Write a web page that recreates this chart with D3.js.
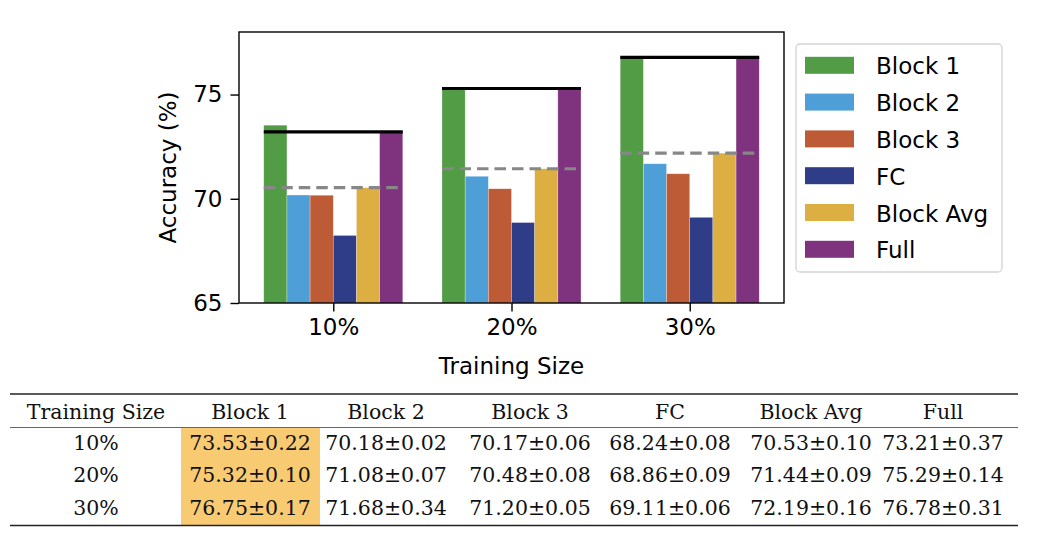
<!DOCTYPE html>
<html>
<head>
  <script src="https://d3js.org/d3.v7.min.js"></script>
  <style>
    body { margin: 0; background: #fff; }
    .axis text { font-family: "DejaVu Sans", sans-serif; font-size: 23px; fill: #000; }
    .axis path, .axis line { stroke: #000; stroke-width: 1.4; }
    .tbl text { font-family: "DejaVu Serif", serif; font-size: 20.5px; fill: #111; }
  </style>
</head>
<body>
  <svg width="1038" height="538"></svg>
  <script>
    // training sizes and methods
    var sizes = ["10%", "20%", "30%"];
    var methods = ["Block 1", "Block 2", "Block 3", "FC", "Block Avg", "Full"];
    var colors = ["#519c45", "#4e9fd8", "#bd5b37", "#2f3d89", "#ddae41", "#7f337e"];

    // mean accuracy per method
    var block1 = [73.53, 75.32, 76.75];
    var block2 = [70.18, 71.08, 71.68];
    var block3 = [70.17, 70.48, 71.20];
    var fc = [68.24, 68.86, 69.11];
    var blockAvg = [70.53, 71.44, 72.19];
    var full = [73.21, 75.29, 76.78];

    // std per method (table only)
    var block1Std = [0.22, 0.10, 0.17];
    var block2Std = [0.02, 0.07, 0.34];
    var block3Std = [0.06, 0.08, 0.05];
    var fcStd = [0.08, 0.09, 0.06];
    var blockAvgStd = [0.10, 0.09, 0.16];
    var fullStd = [0.37, 0.14, 0.31];

    var yTicks = [65, 70, 75];

    var series = [block1, block2, block3, fc, blockAvg, full];
    var stds = [block1Std, block2Std, block3Std, fcStd, blockAvgStd, fullStd];

    var svg = d3.select("svg");
    var margin = {left: 239, right: 784, top: 32, bottom: 303};
    var barW = 0.13;

    var x = d3.scaleLinear().domain([-0.529, 2.529]).range([margin.left, margin.right]);
    var y = d3.scaleLinear().domain([65, 78.0]).range([margin.bottom, margin.top]);

    var bars = [];
    series.forEach(function(s, m) {
      s.forEach(function(v, g) { bars.push({g: g, m: m, v: v}); });
    });

    svg.append("g").selectAll("rect")
      .data(bars)
      .enter().append("rect")
      .attr("x", function(d) { return x(d.g + (d.m - 3) * barW); })
      .attr("width", x(barW) - x(0))
      .attr("y", function(d) { return y(d.v); })
      .attr("height", function(d) { return y(65) - y(d.v); })
      .attr("fill", function(d) { return colors[d.m]; })
      .attr("stroke", "#fff")
      .attr("stroke-opacity", 0.45)
      .attr("stroke-width", 0.6);

    // block avg dashed line and full solid line per group
    svg.append("g").selectAll("line")
      .data(blockAvg)
      .enter().append("line")
      .attr("x1", function(d, i) { return x(i - 3 * barW); })
      .attr("x2", function(d, i) { return x(i + 3 * barW); })
      .attr("y1", function(d) { return y(d); })
      .attr("y2", function(d) { return y(d); })
      .attr("stroke", "#878787")
      .attr("stroke-width", 3.2)
      .attr("stroke-dasharray", "11.5,6");

    svg.append("g").selectAll("line")
      .data(full)
      .enter().append("line")
      .attr("x1", function(d, i) { return x(i - 3 * barW); })
      .attr("x2", function(d, i) { return x(i + 3 * barW); })
      .attr("y1", function(d) { return y(d); })
      .attr("y2", function(d) { return y(d); })
      .attr("stroke", "#000")
      .attr("stroke-width", 3.2);

    // frame
    svg.append("rect")
      .attr("x", margin.left).attr("y", margin.top)
      .attr("width", margin.right - margin.left).attr("height", margin.bottom - margin.top)
      .attr("fill", "none").attr("stroke", "#000").attr("stroke-width", 1.4);

    var yAxis = svg.append("g")
      .attr("class", "axis")
      .attr("transform", "translate(" + margin.left + ",0)")
      .call(d3.axisLeft(y).tickValues(yTicks).tickSize(8.5).tickPadding(8).tickFormat(d3.format("d")));
    yAxis.select(".domain").remove();

    var xAxis = svg.append("g")
      .attr("class", "axis")
      .attr("transform", "translate(0," + margin.bottom + ")")
      .call(d3.axisBottom(x).tickValues([0, 1, 2]).tickSize(8.5).tickPadding(7)
        .tickFormat(function(d) { return sizes[d]; }));
    xAxis.select(".domain").remove();

    svg.append("text")
      .attr("transform", "translate(168," + ((margin.top + margin.bottom) / 2) + ") rotate(-90)")
      .attr("text-anchor", "middle")
      .attr("dominant-baseline", "central")
      .style("font-family", "DejaVu Sans, sans-serif")
      .style("font-size", "23px")
      .text("Accuracy (%)");

    svg.append("text")
      .attr("x", (margin.left + margin.right) / 2)
      .attr("y", 374)
      .attr("text-anchor", "middle")
      .style("font-family", "DejaVu Sans, sans-serif")
      .style("font-size", "23px")
      .text("Training Size");

    // legend
    var lg = svg.append("g");
    lg.append("rect")
      .attr("x", 796).attr("y", 44).attr("width", 206).attr("height", 228)
      .attr("rx", 4).attr("fill", "#fff").attr("stroke", "#d3d3d3").attr("stroke-width", 1.3);
    var items = lg.selectAll("g.item")
      .data(methods)
      .enter().append("g")
      .attr("class", "item")
      .attr("transform", function(d, i) { return "translate(0," + (65.3 + i * 36.8) + ")"; });
    items.append("rect")
      .attr("x", 805).attr("y", -8.5).attr("width", 49).attr("height", 17)
      .attr("fill", function(d, i) { return colors[i]; });
    items.append("text")
      .attr("x", 876).attr("y", 9)
      .style("font-family", "DejaVu Sans, sans-serif")
      .style("font-size", "23px")
      .text(function(d) { return d; });

    // table
    var colX = [96, 250, 386, 530, 670, 811, 943];
    var rowY = [450, 482, 515];
    var tbl = svg.append("g").attr("class", "tbl");

    tbl.append("rect")
      .attr("x", 181).attr("y", 428).attr("width", 139).attr("height", 97)
      .attr("fill", "#f8cb72");

    tbl.append("line").attr("x1", 10).attr("x2", 1018).attr("y1", 394).attr("y2", 394)
      .attr("stroke", "#222").attr("stroke-width", 1.4);
    tbl.append("line").attr("x1", 10).attr("x2", 1018).attr("y1", 427.5).attr("y2", 427.5)
      .attr("stroke", "#555").attr("stroke-width", 0.9);
    tbl.append("line").attr("x1", 10).attr("x2", 1018).attr("y1", 525.5).attr("y2", 525.5)
      .attr("stroke", "#222").attr("stroke-width", 1.4);

    var header = ["Training Size"].concat(methods);
    tbl.selectAll("text.h")
      .data(header)
      .enter().append("text")
      .attr("class", "h")
      .attr("x", function(d, i) { return colX[i]; })
      .attr("y", 419)
      .attr("text-anchor", "middle")
      .text(function(d) { return d; });

    sizes.forEach(function(s, r) {
      var cells = [s];
      series.forEach(function(ser, m) {
        cells.push(ser[r].toFixed(2) + "\u00b1" + stds[m][r].toFixed(2));
      });
      tbl.selectAll("text.r" + r)
        .data(cells)
        .enter().append("text")
        .attr("class", "r" + r)
        .attr("x", function(d, i) { return colX[i]; })
        .attr("y", rowY[r])
        .attr("text-anchor", "middle")
        .text(function(d) { return d; });
    });
  </script>
</body>
</html>
